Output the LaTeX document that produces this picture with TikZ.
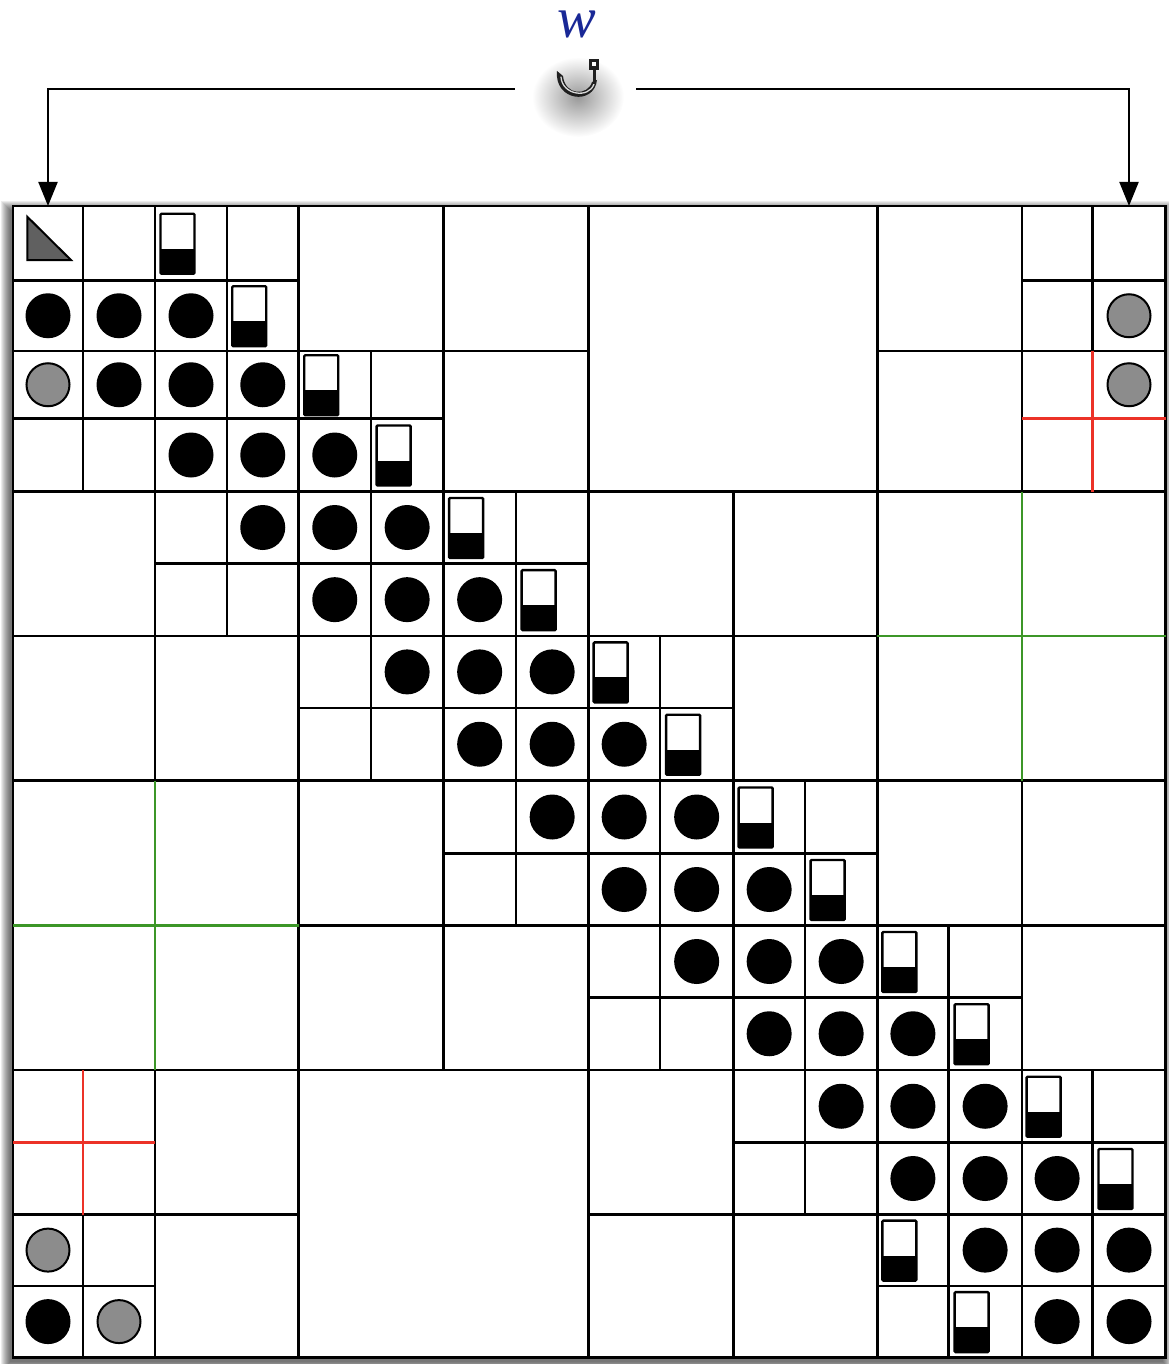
\documentclass[tikz,border=0pt]{standalone}
\usepackage{fontspec}
\newfontfamily\wfont{Liberation Serif}
\usetikzlibrary{arrows.meta,calc}
\definecolor{wblue}{RGB}{25,40,150}
\definecolor{gridred}{RGB}{236,50,40}
\definecolor{gridgreen}{RGB}{60,150,40}
\definecolor{graycirc}{RGB}{140,140,140}
\definecolor{trigray}{RGB}{96,96,96}
\begin{document}
\begin{tikzpicture}[x=1pt,y=-1pt,
  gridline/.style={line width=2.4pt,black},
  redline/.style={line width=2.4pt,gridred},
  greenline/.style={line width=2.4pt,gridgreen},
  conn/.style={line width=2pt,-{Triangle[length=24pt,width=19pt]}},
  blackdot/.style={fill=black},
  graydot/.style={fill=graycirc,draw=black,line width=2pt},
  battery/.pic={
    \fill[black] (-17,5) rectangle (17,30);
    \draw[line width=2.4pt,rounded corners=1pt] (-17,-30) rectangle (17,30);
  }]
\useasboundingbox (0,0) rectangle (1168,1364);
% grid coordinates
\def\xlist{13,83,155,227,298.5,371,443.3,516,588.3,660,733.3,805,877.3,948.5,1021.7,1092.5,1165.5}
\def\ylist{206,280.5,351,418.5,491.5,563.5,635.8,708,780.5,853.5,925.5,997.5,1070,1142.5,1214.5,1285.7,1357.5}
\foreach \xv [count=\i from 0] in \xlist {
  \foreach \yv [count=\j from 0] in \ylist {
    \coordinate (g-\i-\j) at (\xv,\yv);
  }
}
\foreach \i in {0,...,15}{
  \foreach \j in {0,...,15}{
    \pgfmathtruncatemacro\ii{\i+1}
    \pgfmathtruncatemacro\jj{\j+1}
    \coordinate (c-\i-\j) at ($(g-\i-\j)!0.5!(g-\ii-\jj)$);
  }
}
% shadow under the icon
\shade[inner color=black!40,outer color=white] (578,97) ellipse (46 and 40);
% frame shadow
\foreach \k in {0,...,9}{
  \fill[black,opacity=0.075] (10-\k,210-\k) rectangle (1162.5+\k,1361.5+\k);
}
\fill[white] (g-0-0) rectangle (g-16-16);
% unit-cell regions
\foreach \c/\r/\n in {0/0/4,4/2/2,2/4/2,4/4/4,14/0/2,8/6/2,6/8/2,8/8/4,12/10/2,0/14/2,10/12/2,12/12/4}{
  \foreach \a in {1,...,\n}{
    \foreach \b in {1,...,\n}{
      \pgfmathtruncatemacro\ca{\c+\a-1}
      \pgfmathtruncatemacro\cb{\c+\a}
      \pgfmathtruncatemacro\ra{\r+\b-1}
      \pgfmathtruncatemacro\rb{\r+\b}
      \draw[gridline] (g-\ca-\ra) rectangle (g-\cb-\rb);
    }
  }
}
% larger blocks
\foreach \c/\r/\s in {4/0/2,6/0/2,6/2/2,0/4/2,0/6/2,2/6/2,8/0/4,12/0/2,12/2/2,14/2/2,8/4/2,10/4/2,10/6/2,12/4/4,0/8/4,4/8/2,4/10/2,6/10/2,0/12/2,2/12/2,2/14/2,4/12/4,12/8/2,14/8/2,14/10/2,8/12/2,8/14/2,10/14/2}{
  \pgfmathtruncatemacro\cb{\c+\s}
  \pgfmathtruncatemacro\rb{\r+\s}
  \draw[gridline] (g-\c-\r) rectangle (g-\cb-\rb);
}
% coloured subdivisions
\draw[redline] (g-15-2) -- (g-15-4);
\draw[redline] (g-14-3) -- (g-16-3);
\draw[redline] (g-1-12) -- (g-1-14);
\draw[redline] (g-0-13) -- (g-2-13);
\draw[greenline] (g-14-4) -- (g-14-8);
\draw[greenline] (g-12-6) -- (g-16-6);
\draw[greenline] (g-2-8) -- (g-2-12);
\draw[greenline] (g-0-10) -- (g-4-10);
% triangle
\draw[fill=trigray,line width=2pt,line join=miter] ([shift={(-20.7,-26.5)}]c-0-0) -- ([shift={(-20.7,16.8)}]c-0-0) -- ([shift={(23,16.8)}]c-0-0) -- cycle;
% black circles
\foreach \r in {1,...,14}{
  \foreach \d in {-1,0,1}{
    \pgfmathtruncatemacro\cc{\r+\d}
    \fill[blackdot] (c-\cc-\r) circle (22.5pt);
  }
}
\foreach \c/\r in {14/15,15/15,0/15}{
  \fill[blackdot] (c-\c-\r) circle (22.5pt);
}
% gray circles
\foreach \c/\r in {15/1,15/2,0/2,0/14,1/15}{
  \draw[graydot] (c-\c-\r) circle (21.5pt);
}
% batteries
\foreach \c/\r in {2/0,3/1,4/2,5/3,6/4,7/5,8/6,9/7,10/8,11/9,12/10,13/11,14/12,15/13,12/14,13/15}{
  \pic at ([shift={(-13.5,0.5)}]c-\c-\r) {battery};
}
% label and icon
\node[text=wblue,font=\wfont\itshape\fontsize{58}{62}\selectfont,anchor=base,inner sep=0,text height=26pt,text depth=0pt] (wlabel) at (577,38) {w};
\node[minimum width=121pt,minimum height=40pt,inner sep=0] (hook) at (575.5,89) {};
% bowl (crescent)
\fill[black!88] (557,71) .. controls (554,101) and (594,106) .. (597,80)
  -- (592,82) .. controls (588,96) and (565,96) .. (563,76) -- cycle;
\draw[line width=1.3pt,white!85!black,line cap=round] (561,77) .. controls (562,95) and (589,99) .. (594,84);
% hook stem and cap
\draw[line width=3.6pt,black!88] (594.5,84) -- (594.5,65);
\fill[black!88] (588.5,59) rectangle (598.5,70);
\fill[white] (591.5,62) rectangle (595.5,66.5);
% connectors
\coordinate (tl) at (c-0-0 |- g-0-0);
\coordinate (tr) at (c-15-0 |- g-15-0);
\draw[conn] (hook.west) -| (tl);
\draw[conn] (hook.east) -| (tr);
\end{tikzpicture}
\end{document}
